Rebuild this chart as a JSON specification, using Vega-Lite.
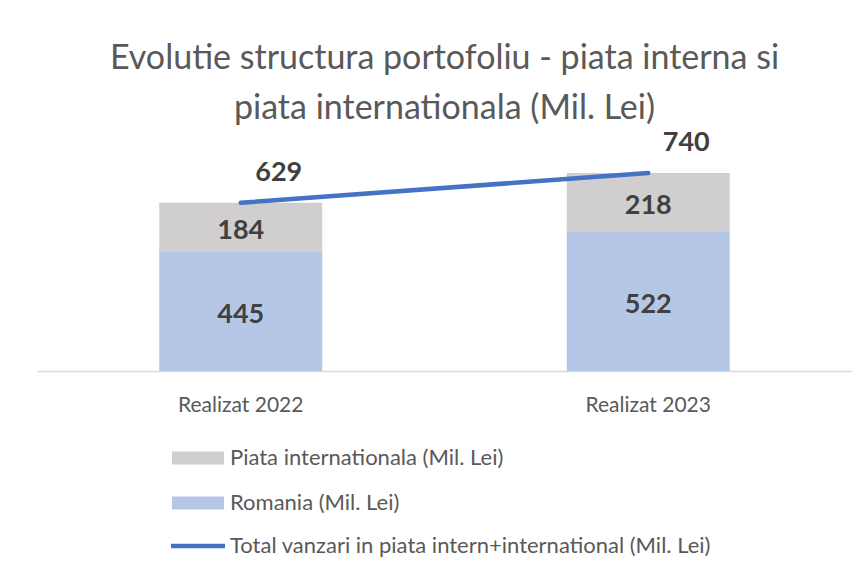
{
  "$schema": "https://vega.github.io/schema/vega-lite/v6.json",
  "width": 815,
  "height": 214,
  "autosize": {"type": "none"},
  "padding": {"left": 37, "top": 157, "right": 16, "bottom": 203},
  "background": "white",
  "config": {"view": {"stroke": null}, "font": "Lato"},
  "title": {
    "text": ["Evolutie structura portofoliu - piata interna si", "piata internationala (Mil. Lei)"],
    "fontSize": 34,
    "fontWeight": "normal",
    "font": "Lato",
    "color": "#595959",
    "anchor": "middle",
    "offset": 3,
    "lineHeight": 50
  },
  "datasets": {
    "parts": [
      {"year": "Realizat 2022", "series": "Romania (Mil. Lei)", "value": 445},
      {"year": "Realizat 2022", "series": "Piata internationala (Mil. Lei)", "value": 184},
      {"year": "Realizat 2023", "series": "Romania (Mil. Lei)", "value": 522},
      {"year": "Realizat 2023", "series": "Piata internationala (Mil. Lei)", "value": 218}
    ],
    "totals": [
      {"year": "Realizat 2022", "label": "Total vanzari in piata intern+international (Mil. Lei)", "total": 629},
      {"year": "Realizat 2023", "label": "Total vanzari in piata intern+international (Mil. Lei)", "total": 740}
    ]
  },
  "layer": [
    {
      "data": {"name": "parts"},
      "transform": [
        {"stack": "value", "groupby": ["year"], "sort": [{"field": "series", "order": "descending"}], "as": ["v0", "v1"]}
      ],
      "layer": [
        {
          "mark": {"type": "bar"},
          "encoding": {
            "x": {
              "field": "year", "type": "nominal",
              "scale": {"paddingInner": 0.6, "paddingOuter": 0.3},
              "axis": {"title": null, "labelAngle": 0, "ticks": false, "domainColor": "#d9d9d9", "domainWidth": 1.5, "labelFontSize": 21, "labelColor": "#595959", "labelFont": "Lato", "labelPadding": 23, "labelBaseline": "top"}
            },
            "y": {"field": "v0", "type": "quantitative", "scale": {"domain": [0, 800], "nice": false, "zero": true}, "axis": null},
            "y2": {"field": "v1"},
            "color": {
              "field": "series", "type": "nominal",
              "scale": {"domain": ["Piata internationala (Mil. Lei)", "Romania (Mil. Lei)"], "range": ["#d0cece", "#b4c7e7"]},
              "legend": {
                "title": null, "orient": "none", "legendX": 150, "legendY": 290, "direction": "vertical",
                "symbolType": "M-5.2,-1.3H5.2V1.3H-5.2Z", "symbolSize": 100, "symbolStrokeWidth": 0, "symbolOpacity": 1,
                "labelOffset": 21, "labelFontSize": 22, "labelColor": "#595959", "labelFont": "Lato", "labelLimit": 0, "rowPadding": 23
              }
            }
          }
        },
        {
          "transform": [
            {"fold": ["v0", "v1"], "as": ["edge", "pos"]},
            {"aggregate": [{"op": "mean", "field": "pos", "as": "mid"}], "groupby": ["year", "series", "value"]}
          ],
          "mark": {"type": "text", "fontSize": 27, "fontWeight": "bold", "color": "#404040", "font": "Lato", "baseline": "middle", "dy": 4},
          "encoding": {
            "x": {"field": "year", "type": "nominal"},
            "y": {"field": "mid", "type": "quantitative", "scale": {"domain": [0, 800], "nice": false}},
            "text": {"field": "value", "type": "quantitative"}
          }
        }
      ]
    },
    {
      "data": {"name": "totals"},
      "layer": [
        {
          "mark": {"type": "line", "strokeWidth": 4.5, "strokeCap": "round"},
          "encoding": {
            "x": {"field": "year", "type": "nominal"},
            "y": {"field": "total", "type": "quantitative", "scale": {"domain": [0, 800], "nice": false}},
            "stroke": {
              "field": "label", "type": "nominal",
              "scale": {"range": ["#4472c4"]},
              "legend": {
                "title": null, "orient": "none", "legendX": 150, "legendY": 378,
                "symbolType": "M-5.4,0H5.4", "symbolSize": 100, "symbolStrokeWidth": 4.5, "symbolFillColor": "transparent",
                "labelOffset": 21, "labelFontSize": 22, "labelColor": "#595959", "labelFont": "Lato", "labelLimit": 0
              }
            }
          }
        },
        {
          "mark": {"type": "text", "fontSize": 27, "fontWeight": "bold", "color": "#404040", "font": "Lato", "baseline": "middle", "dx": 38, "dy": -30},
          "encoding": {
            "x": {"field": "year", "type": "nominal"},
            "y": {"field": "total", "type": "quantitative", "scale": {"domain": [0, 800], "nice": false}},
            "text": {"field": "total", "type": "quantitative"}
          }
        }
      ]
    }
  ]
}
